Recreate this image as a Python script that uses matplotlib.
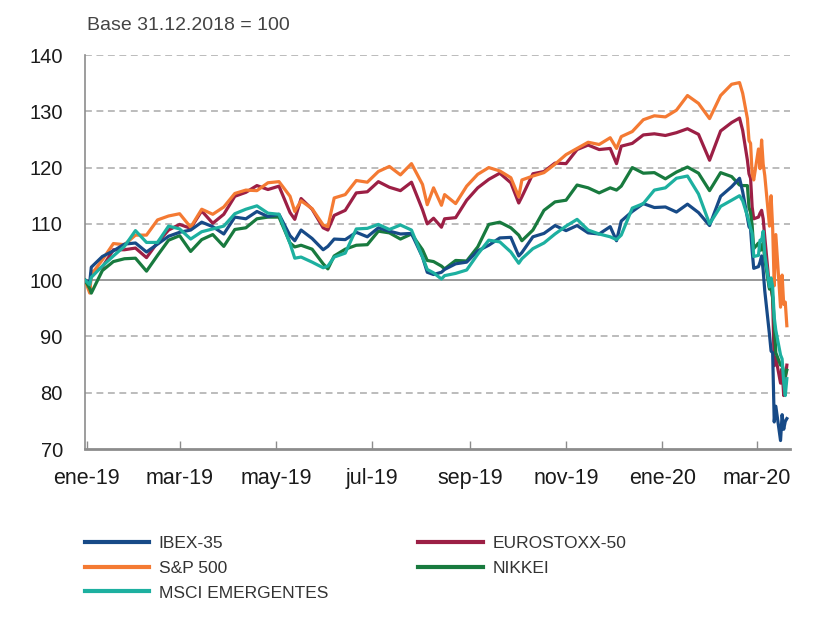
import matplotlib
matplotlib.use("Agg")
import matplotlib.pyplot as plt
import matplotlib.dates as mdates
from matplotlib.lines import Line2D
from matplotlib.ticker import FuncFormatter
import pandas as pd

plt.rcParams["font.family"] = ["Liberation Sans", "DejaVu Sans"]

# Fechas: viernes semanales + algunos días sueltos + diario desde el 24-feb-2020
fridays = pd.date_range("2019-01-04", "2020-02-14", freq="W-FRI")
extra_days = pd.to_datetime(["2018-12-31", "2019-01-03", "2019-05-13", "2019-06-03",
                             "2019-08-05", "2019-08-14", "2019-10-02", "2019-12-03",
                             "2020-02-19", "2020-02-21"])
crash_days = pd.bdate_range("2020-02-24", "2020-03-20")
dates = fridays.union(extra_days).union(crash_days)

ibex = [100.0, 99.6, 102.3, 104.2, 105.2, 106.4,
        106.6, 105.0, 106.4, 107.8,
        108.5, 108.9, 110.3, 109.5, 108.2,
        111.2, 110.9, 112.2, 111.3,
        111.7, 107.9, 107.0, 108.9, 107.4, 105.4,
        106.0, 107.3, 107.2, 108.5, 107.7,
        109.3, 108.7, 108.2, 108.3,
        104.1, 101.4, 101.0, 101.4, 101.9, 102.9, 103.2,
        105.2, 106.2, 107.5, 107.6,
        104.3, 104.9, 107.7, 108.3, 109.7,
        108.8, 109.7, 108.4, 108.2, 109.5,
        107.0, 110.5, 112.2, 113.6, 112.9,
        113.0, 112.1, 113.5, 112.0, 109.7,
        114.9, 116.6,
        118.1, 115.7,
        111.1, 109.5, 109.1, 105.2, 102.1,
        102.4, 103.2, 104.3, 101.7, 98.1,
        90.3, 87.4, 87.1, 74.8, 77.6,
        71.5, 76.1, 73.5, 74.9, 75.4]

eurostoxx = [100.0, 98.4, 101.3, 102.3, 105.4, 105.4,
             105.7, 104.0, 106.7, 108.9,
             109.9, 109.2, 112.3, 110.1, 111.7,
             114.9, 115.6, 116.8, 116.1,
             116.7, 112.0, 110.8, 114.5, 112.6, 109.3,
             108.9, 111.5, 112.4, 115.5, 115.7,
             117.5, 116.5, 115.9, 117.4,
             112.5, 110.0, 111.0, 109.4, 110.9, 111.1, 114.2,
             116.4, 117.9, 119.0, 117.3,
             113.7, 114.8, 118.9, 119.3, 120.8,
             120.7, 123.2, 124.0, 123.2, 123.4,
             120.7, 123.8, 124.3, 125.8, 126.0,
             125.7, 126.2, 126.9, 125.9, 121.3,
             126.5, 128.0,
             128.8, 126.6,
             121.3, 118.9, 118.1, 113.0, 110.9,
             111.2, 111.9, 112.4, 110.9, 107.7,
             98.6, 98.6, 96.8, 84.8, 86.2,
             81.7, 84.3, 79.5, 82.4, 84.9]

sp500 = [100.0, 97.7, 101.0, 103.6, 106.5, 106.3,
         108.0, 108.0, 110.7, 111.4,
         111.8, 109.4, 112.6, 111.7, 113.0,
         115.4, 116.0, 115.9, 117.3,
         117.5, 114.9, 112.2, 114.1, 112.7, 109.8,
         109.5, 114.6, 115.2, 117.7, 117.4,
         119.3, 120.2, 118.7, 120.7,
         117.0, 113.4, 116.4, 113.3, 115.2, 113.6, 116.7,
         118.8, 120.0, 119.4, 118.2,
         114.8, 117.8, 118.5, 119.1, 120.6,
         122.3, 123.4, 124.5, 124.1, 125.3,
         123.4, 125.5, 126.4, 128.5, 129.2,
         129.0, 130.2, 132.8, 131.4, 128.7,
         132.8, 134.8,
         135.1, 133.2,
         128.7, 124.8, 124.3, 118.8, 117.8,
         123.3, 119.8, 124.9, 120.6, 118.6,
         109.6, 115.0, 109.3, 99.0, 108.1,
         95.2, 100.9, 95.7, 96.1, 91.9]

nikkei = [100.0, 98.5, 97.7, 101.7, 103.3, 103.8,
          103.9, 101.6, 104.4, 107.1,
          107.9, 105.1, 107.2, 108.1, 106.0,
          109.0, 109.3, 110.9, 111.2,
          111.2, 106.6, 105.9, 106.2, 105.5, 102.9,
          102.0, 104.3, 105.5, 106.2, 106.3,
          108.7, 108.4, 107.3, 108.2,
          105.4, 103.5, 103.3, 102.5, 102.0, 103.5, 103.4,
          105.9, 109.9, 110.3, 109.3,
          108.0, 107.0, 108.9, 112.4, 113.9,
          114.2, 116.9, 116.4, 115.5, 116.4,
          116.0, 116.7, 120.0, 119.0, 119.1,
          118.0, 119.2, 120.1, 119.0, 115.9,
          119.1, 118.4,
          116.9, 116.8,
          116.8, 112.9, 112.0, 109.7, 105.6,
          106.6, 105.3, 105.4, 106.6, 103.7,
          98.4, 99.3, 97.0, 92.7, 87.1,
          84.9, 85.0, 83.6, 83.0, 84.0]

msci_em = [100.0, 99.2, 100.5, 102.5, 104.3, 106.0,
           108.8, 106.7, 106.7, 109.6,
           109.1, 107.3, 108.6, 109.1, 109.6,
           111.8, 112.6, 113.2, 111.9,
           111.7, 106.5, 103.9, 104.1, 103.2, 102.2,
           102.5, 104.1, 104.8, 109.1, 109.2,
           109.9, 109.0, 109.8, 108.9,
           104.1, 101.9, 101.3, 100.2, 100.8, 101.2, 101.8,
           104.6, 107.1, 106.8, 105.0,
           103.0, 103.8, 105.6, 106.6, 108.2,
           109.6, 110.8, 108.9, 108.2, 107.7,
           107.2, 108.0, 112.8, 113.6, 116.0,
           116.4, 118.1, 118.5, 115.3, 110.0,
           113.1, 114.2,
           115.0, 114.1,
           111.4, 110.4, 109.2, 108.3, 104.2,
           104.4, 107.1, 107.0, 108.7, 104.6,
           98.8, 100.4, 98.8, 93.4, 91.1,
           86.7, 86.0, 81.9, 79.5, 82.5]

labels = ["IBEX-35", "EUROSTOXX-50", "S&P 500", "NIKKEI", "MSCI EMERGENTES"]
colors = ["#174a87", "#9c1f45", "#f47a33", "#187a3e", "#1db0a0"]
month_names = ["ene", "feb", "mar", "abr", "may", "jun",
               "jul", "ago", "sep", "oct", "nov", "dic"]

series = [ibex, eurostoxx, sp500, nikkei, msci_em]
for s in series:
    assert len(s) == len(dates)

fig = plt.figure(figsize=(8.15, 6.25), dpi=100)
ax = fig.add_axes([85 / 815, 1 - 449 / 625, 705 / 815, 394 / 625])

# gridlines: dashed, except the 100 base line
for level in [80, 90, 110, 120, 130, 140]:
    ax.axhline(level, color="#aaaaaa", lw=1.1, linestyle=(0, (4.5, 3)), zorder=1)
ax.axhline(100, color="#999999", lw=1.4, zorder=1)

# draw order so teal/blue sit on top
for i in [1, 2, 3, 0, 4]:
    ax.plot(dates, series[i], color=colors[i], lw=2.3, zorder=3,
            solid_joinstyle="round")

ax.set_ylim(70, 140)
ax.set_yticks(range(70, 141, 10))
ax.set_xlim(pd.Timestamp("2018-12-31"), pd.Timestamp("2020-03-22"))
ax.xaxis.set_major_locator(mdates.MonthLocator(bymonth=[1, 3, 5, 7, 9, 11]))
ax.xaxis.set_major_formatter(FuncFormatter(
    lambda v, pos: "%s-%s" % (month_names[mdates.num2date(v).month - 1],
                              mdates.num2date(v).strftime("%y"))))

for side in ["top", "right"]:
    ax.spines[side].set_visible(False)
ax.spines["left"].set_color("#8c8c8c")
ax.spines["left"].set_linewidth(1.2)
ax.spines["bottom"].set_color("#8c8c8c")
ax.spines["bottom"].set_linewidth(2)

ax.tick_params(axis="x", direction="in", length=6, width=1, color="#8c8c8c",
               labelsize=15.5, pad=14, labelcolor="#1a1a1a")
ax.tick_params(axis="y", length=0, labelsize=14.5, pad=16, labelcolor="#1a1a1a")

fig.text(87 / 815, 1 - 25 / 625, "Base 31.12.2018 = 100", fontsize=14,
         color="#444444", va="center")

# legend: column-wise fill -> IBEX | EURO / S&P | NIKKEI / MSCI
order = [0, 2, 4, 1, 3]
handles = [Line2D([], [], color=colors[i], lw=3) for i in order]
fig.legend(handles, [labels[i] for i in order], ncol=2, loc="upper left",
           bbox_to_anchor=(85 / 815, 1 - 536 / 625), frameon=False,
           borderpad=0, borderaxespad=0,
           prop={"family": "Liberation Sans", "size": 12.5},
           labelcolor="#333333", handlelength=3.7, handletextpad=0.55,
           columnspacing=5.2, labelspacing=0.55)

fig.savefig("out.png", dpi=100)
